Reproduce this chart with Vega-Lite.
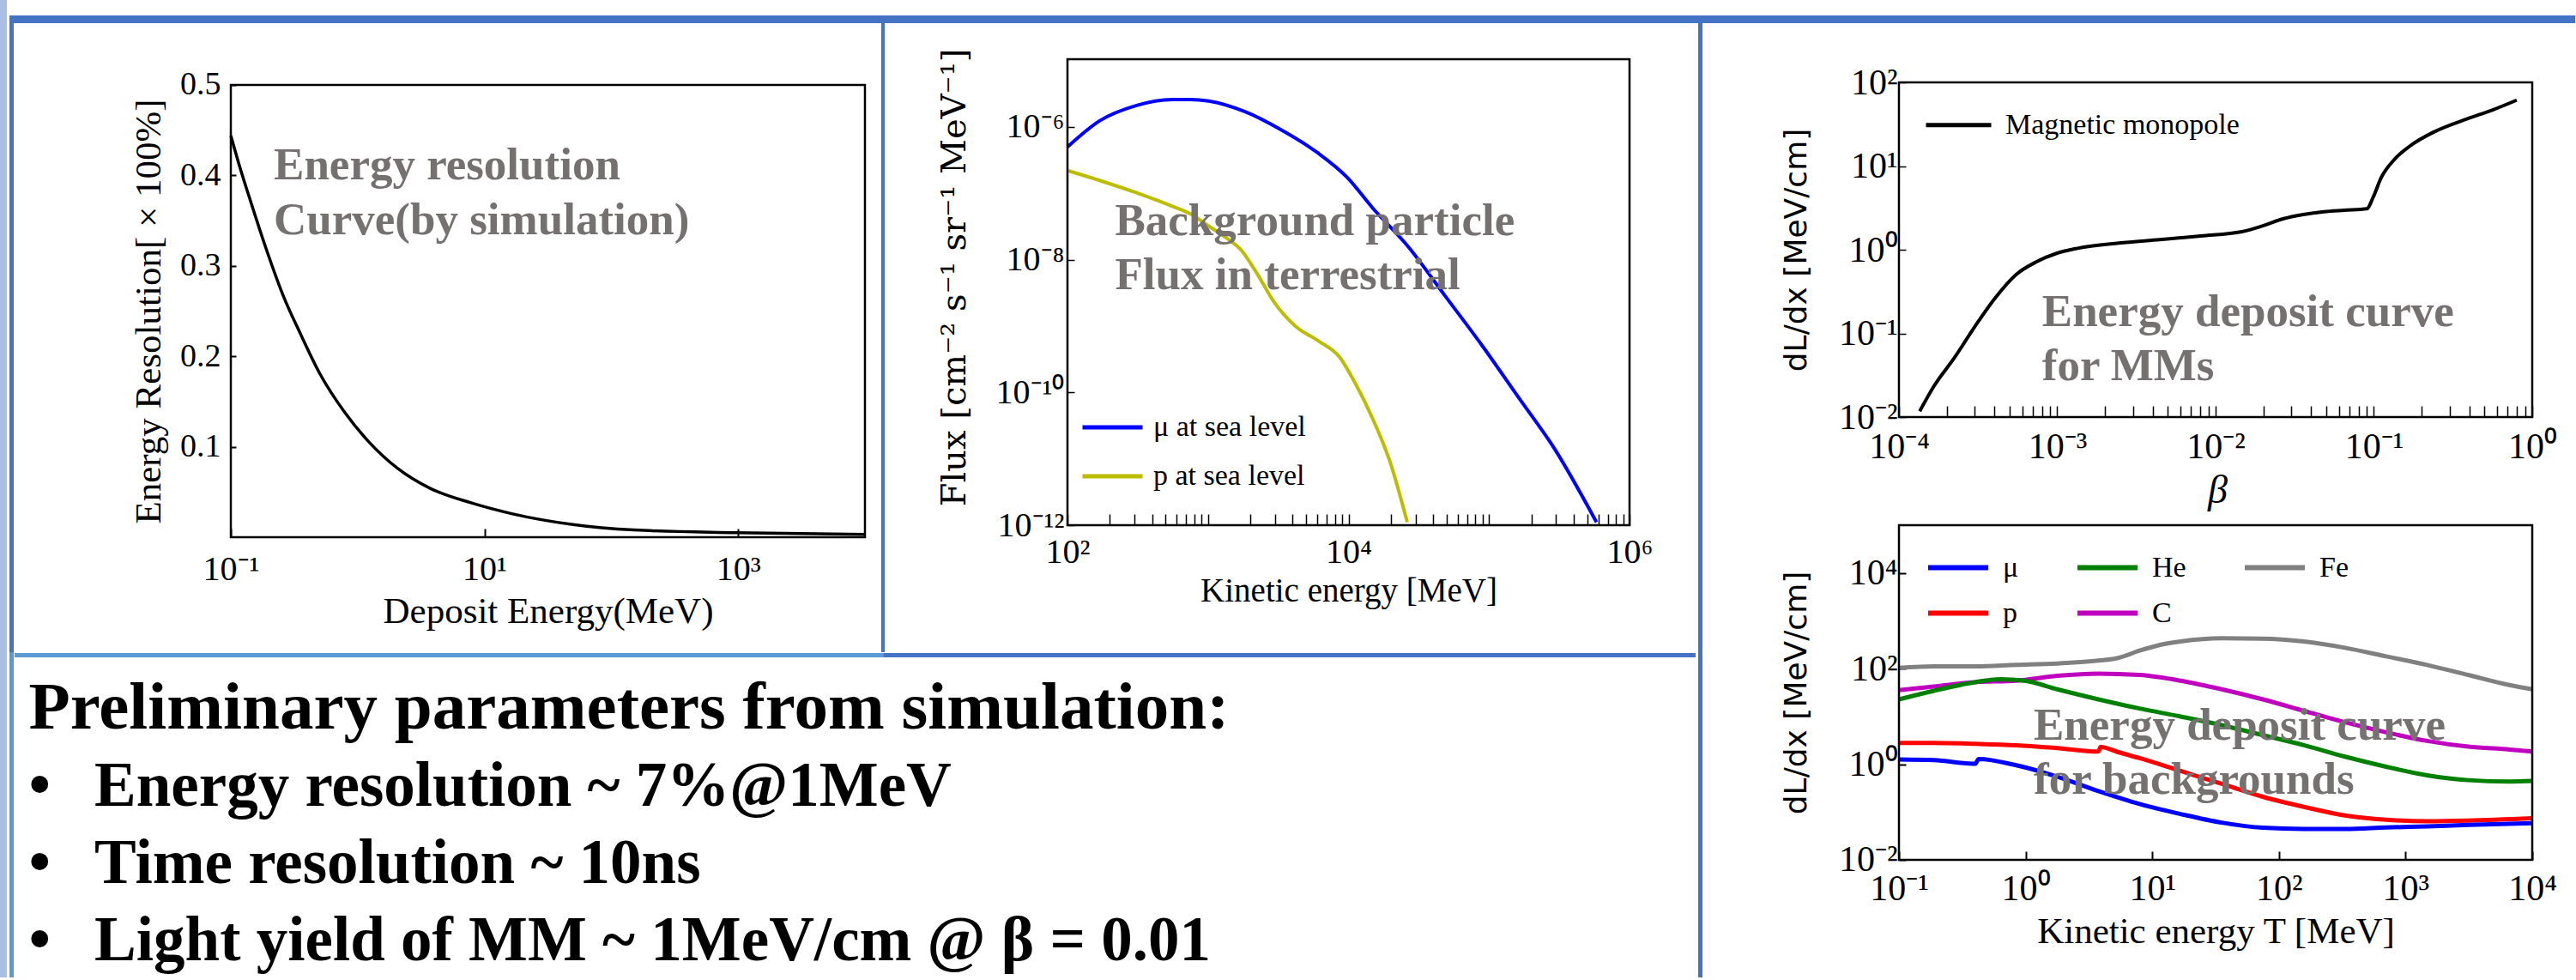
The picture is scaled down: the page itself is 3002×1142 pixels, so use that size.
{
"$schema": "https://vega.github.io/schema/vega-lite/v6.json",
"background": "white",
"padding": 0,
"spacing": 2,
"resolve": {"scale": {"color": "independent"}, "legend": {"color": "independent"}},
"config": {
  "view": {"stroke": null},
  "concat": {"spacing": 0},
  "font": "Liberation Serif",
  "axis": {"labelFont": "Liberation Serif", "titleFont": "Liberation Serif", "labelColor": "#000", "titleColor": "#000", "titleFontWeight": "normal", "tickColor": "#000", "grid": false, "domain": false, "labelFlush": false, "labelOverlap": false},
  "legend": {"labelFont": "Liberation Serif", "labelColor": "#000", "padding": 0, "labelLimit": 0}
},
"hconcat": [
  {"width": 8, "height": 1139, "view": {"fill": "#A9BFE6", "stroke": null}, "data": {"values": [{}]}, "mark": {"type": "point", "opacity": 0}, "encoding": {}},
  {"spacing": 0, "resolve": {"scale": {"color": "independent"}, "legend": {"color": "independent"}}, "vconcat": [
    {"width": 2990, "height": 18, "data": {"values": [{}]}, "mark": {"type": "point", "opacity": 0}, "encoding": {}},
    {"width": 2990, "height": 9, "view": {"fill": "#4472C4", "stroke": null}, "data": {"values": [{}]}, "mark": {"type": "point", "opacity": 0}, "encoding": {}},
    {"spacing": 0, "resolve": {"scale": {"color": "independent"}, "legend": {"color": "independent"}}, "hconcat": [
      {"spacing": 0, "vconcat": [
        {"width": 5, "height": 733, "view": {"fill": "#4472C4", "stroke": null}, "data": {"values": [{}]}, "mark": {"type": "point", "opacity": 0}, "encoding": {}},
        {"width": 5, "height": 379, "view": {"fill": "#5B9BD5", "stroke": null}, "data": {"values": [{}]}, "mark": {"type": "point", "opacity": 0}, "encoding": {}}
      ]},
      {"spacing": 0, "resolve": {"scale": {"color": "independent"}, "legend": {"color": "independent"}}, "vconcat": [
        {"spacing": 0, "resolve": {"scale": {"color": "independent"}, "legend": {"color": "independent"}}, "hconcat": [
          {"width": 1009, "height": 733, "layer": [
            {"data": {"values": [
              {"x": 0.1, "y": 0.444}, {"x": 0.1156, "y": 0.413}, {"x": 0.1442, "y": 0.370}, {"x": 0.1941, "y": 0.315},
              {"x": 0.2606, "y": 0.266}, {"x": 0.3508, "y": 0.226}, {"x": 0.507, "y": 0.180}, {"x": 0.7907, "y": 0.138},
              {"x": 1.233, "y": 0.105}, {"x": 2.07, "y": 0.076}, {"x": 3.733, "y": 0.054}, {"x": 7.834, "y": 0.038},
              {"x": 16.41, "y": 0.026}, {"x": 49.77, "y": 0.014}, {"x": 150.7, "y": 0.008}, {"x": 955, "y": 0.005}, {"x": 10000, "y": 0.003}
            ]},
             "mark": {"type": "line", "color": "#000", "strokeWidth": 3.5, "interpolate": "monotone"},
             "encoding": {
               "x": {"field": "x", "type": "quantitative", "scale": {"type": "log", "domain": [0.001972, 13240], "nice": false},
                     "axis": {"orient": "bottom", "offset": -134, "values": [0.1, 10, 1000], "labelExpr": "abs(log(datum.value)/LN10 - round(log(datum.value)/LN10)) > 0.01 ? '' : '10' + replace(replace(replace(replace(replace(replace(replace(replace('' + round(log(datum.value)/LN10), '-', '⁻'), '0', '⁰'), '1', '¹'), '2', '²'), '3', '³'), '4', '⁴'), '6', '⁶'), '8', '⁸')", "tickSize": -10, "tickWidth": 2, "labelPadding": 27, "labelFontSize": 40, "title": "Deposit Energy(MeV)", "titleFontSize": 43, "titlePadding": 8, "titleX": 621.5}},
               "y": {"field": "y", "type": "quantitative", "scale": {"type": "linear", "domain": [-0.12713, 0.56831], "nice": false, "zero": false},
                     "axis": {"orient": "left", "offset": -252, "values": [0.1, 0.2, 0.3, 0.4, 0.5], "format": ".1f", "tickSize": -6, "tickWidth": 2, "labelPadding": 18, "labelFontSize": 38, "title": "Energy Resolution[ × 100%]", "titleFontSize": 43, "titlePadding": 14, "titleY": 335.5}}
             }},
            {"data": {"values": [{}]},
             "mark": {"type": "rect", "fillOpacity": 0, "stroke": "#000", "strokeWidth": 2.5},
             "encoding": {
               "x": {"datum": 0.1, "type": "quantitative", "scale": {"type": "log", "domain": [0.001972, 13240], "nice": false}},
               "x2": {"datum": 10000},
               "y": {"datum": 0, "type": "quantitative", "scale": {"type": "linear", "domain": [-0.12713, 0.56831], "nice": false, "zero": false}},
               "y2": {"datum": 0.5}
             }},
            {"data": {"values": [{}]},
             "mark": {"type": "text", "align": "left", "baseline": "alphabetic", "font": "Liberation Serif", "fontWeight": "bold", "fontSize": 53, "lineHeight": 64, "color": "#767171"},
             "encoding": {
               "x": {"datum": 0.218, "type": "quantitative", "scale": {"type": "log", "domain": [0.001972, 13240], "nice": false}},
               "y": {"datum": 0.396, "type": "quantitative", "scale": {"type": "linear", "domain": [-0.12713, 0.56831], "nice": false, "zero": false}},
               "text": {"value": ["Energy resolution", "Curve(by simulation)"]}
             }}
          ]},
          {"width": 4, "height": 733, "view": {"fill": "#4472C4", "stroke": null}, "data": {"values": [{}]}, "mark": {"type": "point", "opacity": 0}, "encoding": {}},
          {"width": 946, "height": 733, "layer": [
            {"data": {"values": [
              {"s": "μ at sea level", "x": 100, "y": 5.01e-7}, {"s": "μ at sea level", "x": 169, "y": 1.236e-6}, {"s": "μ at sea level", "x": 306.9, "y": 2.099e-6},
              {"s": "μ at sea level", "x": 557.2, "y": 2.594e-6}, {"s": "μ at sea level", "x": 751.6, "y": 2.594e-6}, {"s": "μ at sea level", "x": 1012, "y": 2.46e-6},
              {"s": "μ at sea level", "x": 1837, "y": 1.698e-6}, {"s": "μ at sea level", "x": 3334, "y": 8.995e-7}, {"s": "μ at sea level", "x": 6053, "y": 4.064e-7},
              {"s": "μ at sea level", "x": 9772, "y": 1.742e-7}, {"s": "μ at sea level", "x": 14825, "y": 6.05e-8}, {"s": "μ at sea level", "x": 26915, "y": 1.528e-8},
              {"s": "μ at sea level", "x": 48978, "y": 2.805e-9}, {"s": "μ at sea level", "x": 88920, "y": 5.16e-10}, {"s": "μ at sea level", "x": 161440, "y": 8.53e-11},
              {"s": "μ at sea level", "x": 293090, "y": 1.41e-11}, {"s": "μ at sea level", "x": 582100, "y": 1.11e-12},
              {"s": "p at sea level", "x": 100, "y": 2.203e-7}, {"s": "p at sea level", "x": 169, "y": 1.567e-7}, {"s": "p at sea level", "x": 306.9, "y": 1.026e-7},
              {"s": "p at sea level", "x": 557.2, "y": 6.38e-8}, {"s": "p at sea level", "x": 751.6, "y": 4.9e-8}, {"s": "p at sea level", "x": 1012, "y": 3.206e-8},
              {"s": "p at sea level", "x": 1365, "y": 2.099e-8}, {"s": "p at sea level", "x": 1734, "y": 1.374e-8}, {"s": "p at sea level", "x": 2198, "y": 6.55e-9},
              {"s": "p at sea level", "x": 2965, "y": 2.27e-9}, {"s": "p at sea level", "x": 4236, "y": 9.75e-10}, {"s": "p at sea level", "x": 6053, "y": 6.05e-10},
              {"s": "p at sea level", "x": 8670, "y": 3.38e-10}, {"s": "p at sea level", "x": 11015, "y": 1.452e-10}, {"s": "p at sea level", "x": 14825, "y": 4.07e-11},
              {"s": "p at sea level", "x": 19999, "y": 8.32e-12}, {"s": "p at sea level", "x": 26182, "y": 1.11e-12}
            ]},
             "mark": {"type": "line", "strokeWidth": 4, "interpolate": "monotone"},
             "encoding": {
               "x": {"field": "x", "type": "quantitative", "scale": {"type": "log", "domain": [5.074, 3036700], "nice": false},
                     "axis": {"orient": "bottom", "offset": -148, "values": [100,200,300,400,500,600,700,800,900,1000,2000,3000,4000,5000,6000,7000,8000,9000,10000,20000,30000,40000,50000,60000,70000,80000,90000,100000,200000,300000,400000,500000,600000,700000,800000,900000,1000000], "labelExpr": "(abs(log(datum.value)/LN10 - round(log(datum.value)/LN10)) > 0.01 || round(log(datum.value)/LN10) % 2 != 0) ? '' : '10' + replace(replace(replace(replace(replace(replace(replace(replace('' + round(log(datum.value)/LN10), '-', '⁻'), '0', '⁰'), '1', '¹'), '2', '²'), '3', '³'), '4', '⁴'), '6', '⁶'), '8', '⁸')", "tickSize": -13, "tickWidth": 1.5, "labelPadding": 24, "labelFontSize": 40, "title": "Kinetic energy [MeV]", "titleFontSize": 39, "titlePadding": 6, "titleX": 539.5}},
               "y": {"field": "y", "type": "quantitative", "scale": {"type": "log", "domain": [1.2199e-14, 3.6666e-5], "nice": false},
                     "axis": {"orient": "left", "offset": -212, "values": [1e-12, 1e-10, 1e-8, 1e-6], "labelExpr": "abs(log(datum.value)/LN10 - round(log(datum.value)/LN10)) > 0.01 ? '' : '10' + replace(replace(replace(replace(replace(replace(replace(replace('' + round(log(datum.value)/LN10), '-', '⁻'), '0', '⁰'), '1', '¹'), '2', '²'), '3', '³'), '4', '⁴'), '6', '⁶'), '8', '⁸')", "tickSize": -8, "tickWidth": 1.5, "labelPadding": 12, "labelFontSize": 40, "title": "Flux [cm⁻² s⁻¹ sr⁻¹ MeV⁻¹]", "titleFont": "DejaVu Serif", "titleFontSize": 40, "titlePadding": 28, "titleY": 296}},
               "color": {"field": "s", "type": "nominal", "scale": {"domain": ["μ at sea level", "p at sea level"], "range": ["#0000FF", "#BDBD00"]},
                         "legend": {"orient": "none", "legendX": 227, "legendY": 442.5, "title": null, "symbolType": "stroke", "symbolSize": 4900, "symbolStrokeWidth": 5, "labelFontSize": 34, "labelOffset": 10, "rowPadding": 0, "clipHeight": 57, "padding": 0}}
             }},
            {"data": {"values": [{}]},
             "mark": {"type": "rect", "fillOpacity": 0, "stroke": "#000", "strokeWidth": 2.5},
             "encoding": {
               "x": {"datum": 100, "type": "quantitative", "scale": {"type": "log", "domain": [5.074, 3036700], "nice": false}},
               "x2": {"datum": 1000000},
               "y": {"datum": 1e-12, "type": "quantitative", "scale": {"type": "log", "domain": [1.2199e-14, 3.6666e-5], "nice": false}},
               "y2": {"datum": 1.05e-5}
             }},
            {"data": {"values": [{}]},
             "mark": {"type": "text", "align": "left", "baseline": "alphabetic", "font": "Liberation Serif", "fontWeight": "bold", "fontSize": 53, "lineHeight": 63, "color": "#767171"},
             "encoding": {
               "x": {"datum": 218.2, "type": "quantitative", "scale": {"type": "log", "domain": [5.074, 3036700], "nice": false}},
               "y": {"datum": 2.346e-8, "type": "quantitative", "scale": {"type": "log", "domain": [1.2199e-14, 3.6666e-5], "nice": false}},
               "text": {"value": ["Background particle", "Flux in terrestrial"]}
             }}
          ]}
        ]},
        {"spacing": 0, "hconcat": [
          {"width": 1013, "height": 5, "view": {"fill": "#5B9BD5", "stroke": null}, "data": {"values": [{}]}, "mark": {"type": "point", "opacity": 0}, "encoding": {}},
          {"width": 946, "height": 5, "view": {"fill": "#4472C4", "stroke": null}, "data": {"values": [{}]}, "mark": {"type": "point", "opacity": 0}, "encoding": {}}
        ]},
        {"width": 1959, "height": 374,
         "data": {"values": [
           {"k": "h", "row": 0, "t": "Preliminary parameters from simulation:"},
           {"k": "b", "row": 1, "t": "•\u2002\u2009Energy resolution ~ 7%@1MeV"},
           {"k": "b", "row": 2, "t": "•\u2002\u2009Time resolution ~ 10ns"},
           {"k": "b", "row": 3, "t": "•\u2002\u2009Light yield of MM ~ 1MeV/cm @ β = 0.01"}
         ]},
         "layer": [
           {"transform": [{"filter": "datum.k === 'h'"}],
            "mark": {"type": "text", "align": "left", "baseline": "alphabetic", "font": "Liberation Serif", "fontWeight": "bold", "fontSize": 79, "color": "#000"},
            "encoding": {
              "x": {"datum": 0.00837, "type": "quantitative", "scale": {"domain": [0, 1]}, "axis": null},
              "y": {"field": "row", "type": "quantitative", "scale": {"domain": [-0.9078, 3.2478], "reverse": true, "nice": false, "zero": false}, "axis": null},
              "text": {"field": "t"}
            }},
           {"transform": [{"filter": "datum.k === 'b'"}],
            "mark": {"type": "text", "align": "left", "baseline": "alphabetic", "font": "Liberation Serif", "fontWeight": "bold", "fontSize": 73, "color": "#000"},
            "encoding": {
              "x": {"datum": 0.00837, "type": "quantitative", "scale": {"domain": [0, 1]}, "axis": null},
              "y": {"field": "row", "type": "quantitative", "scale": {"domain": [-0.9078, 3.2478], "reverse": true, "nice": false, "zero": false}, "axis": null},
              "text": {"field": "t"}
            }}
         ]}
      ]},
      {"width": 5, "height": 1112, "view": {"fill": "#4472C4", "stroke": null}, "data": {"values": [{}]}, "mark": {"type": "point", "opacity": 0}, "encoding": {}},
      {"spacing": 0, "resolve": {"scale": {"color": "independent"}, "legend": {"color": "independent"}}, "vconcat": [
        {"width": 1020, "height": 575, "layer": [
          {"data": {"values": [
            {"s": "Magnetic monopole", "x": 1.352e-4, "y": 0.01172}, {"s": "Magnetic monopole", "x": 1.663e-4, "y": 0.02339}, {"s": "Magnetic monopole", "x": 2.244e-4, "y": 0.0514},
            {"s": "Magnetic monopole", "x": 3.027e-4, "y": 0.1222}, {"s": "Magnetic monopole", "x": 4.074e-4, "y": 0.2685}, {"s": "Magnetic monopole", "x": 5.495e-4, "y": 0.5047},
            {"s": "Magnetic monopole", "x": 7.396e-4, "y": 0.7178}, {"s": "Magnetic monopole", "x": 9.977e-4, "y": 0.9099}, {"s": "Magnetic monopole", "x": 1.343e-3, "y": 1.04},
            {"s": "Magnetic monopole", "x": 2.443e-3, "y": 1.199}, {"s": "Magnetic monopole", "x": 4.436e-3, "y": 1.318}, {"s": "Magnetic monopole", "x": 8.054e-3, "y": 1.459},
            {"s": "Magnetic monopole", "x": 0.01466, "y": 1.641}, {"s": "Magnetic monopole", "x": 0.01972, "y": 1.923}, {"s": "Magnetic monopole", "x": 0.02661, "y": 2.339},
            {"s": "Magnetic monopole", "x": 0.03581, "y": 2.636}, {"s": "Magnetic monopole", "x": 0.04831, "y": 2.851}, {"s": "Magnetic monopole", "x": 0.06516, "y": 2.965},
            {"s": "Magnetic monopole", "x": 0.09036, "y": 3.083}, {"s": "Magnetic monopole", "x": 0.09886, "y": 4.227}, {"s": "Magnetic monopole", "x": 0.1114, "y": 7.328},
            {"s": "Magnetic monopole", "x": 0.1334, "y": 11.75}, {"s": "Magnetic monopole", "x": 0.1694, "y": 17.42}, {"s": "Magnetic monopole", "x": 0.2421, "y": 25.82},
            {"s": "Magnetic monopole", "x": 0.39, "y": 36.81}, {"s": "Magnetic monopole", "x": 0.5585, "y": 46.67}, {"s": "Magnetic monopole", "x": 0.798, "y": 61.38}
          ]},
           "mark": {"type": "line", "strokeWidth": 4, "interpolate": "monotone"},
           "encoding": {
             "x": {"field": "x", "type": "quantitative", "scale": {"type": "log", "domain": [5.8115e-6, 1.9623], "nice": false},
                   "axis": {"orient": "bottom", "offset": -116, "values": [0.0001,0.0002,0.0003,0.0004,0.0005,0.0006,0.0007,0.0008,0.0009,0.001,0.002,0.003,0.004,0.005,0.006,0.007,0.008,0.009,0.01,0.02,0.03,0.04,0.05,0.06,0.07,0.08,0.09,0.1,0.2,0.3,0.4,0.5,0.6,0.7,0.8,0.9,1], "labelExpr": "abs(log(datum.value)/LN10 - round(log(datum.value)/LN10)) > 0.01 ? '' : '10' + replace(replace(replace(replace(replace(replace(replace(replace('' + round(log(datum.value)/LN10), '-', '⁻'), '0', '⁰'), '1', '¹'), '2', '²'), '3', '³'), '4', '⁴'), '6', '⁶'), '8', '⁸')", "tickSize": -13, "tickWidth": 1.5, "labelPadding": 27, "labelFontSize": 42, "title": "β", "titleFontStyle": "italic", "titleFontSize": 46, "titlePadding": 8, "titleX": 599}},
             "y": {"field": "y", "type": "quantitative", "scale": {"type": "log", "domain": [6.4603e-4, 510.3], "nice": false},
                   "axis": {"orient": "left", "offset": -228, "values": [0.01, 0.1, 1, 10, 100], "labelExpr": "abs(log(datum.value)/LN10 - round(log(datum.value)/LN10)) > 0.01 ? '' : '10' + replace(replace(replace(replace(replace(replace(replace(replace('' + round(log(datum.value)/LN10), '-', '⁻'), '0', '⁰'), '1', '¹'), '2', '²'), '3', '³'), '4', '⁴'), '6', '⁶'), '8', '⁸')", "tickSize": -8, "tickWidth": 1.5, "labelPadding": 10, "labelFontSize": 42, "title": "dL/dx [MeV/cm]", "titleFont": "DejaVu Sans", "titleFontSize": 36, "titlePadding": 30, "titleY": 264}},
             "color": {"field": "s", "type": "nominal", "scale": {"domain": ["Magnetic monopole"], "range": ["#000000"]},
                       "legend": {"orient": "none", "legendX": 257, "legendY": 78.3, "title": null, "symbolType": "stroke", "symbolSize": 5776, "symbolStrokeWidth": 5, "labelFontSize": 34, "labelOffset": 14, "padding": 0}}
           }},
          {"data": {"values": [{}]},
           "mark": {"type": "rect", "fillOpacity": 0, "stroke": "#000", "strokeWidth": 2.5},
           "encoding": {
             "x": {"datum": 0.0001, "type": "quantitative", "scale": {"type": "log", "domain": [5.8115e-6, 1.9623], "nice": false}},
             "x2": {"datum": 1},
             "y": {"datum": 0.01, "type": "quantitative", "scale": {"type": "log", "domain": [6.4603e-4, 510.3], "nice": false}},
             "y2": {"datum": 100}
           }},
          {"data": {"values": [{}]},
           "mark": {"type": "text", "align": "left", "baseline": "alphabetic", "font": "Liberation Serif", "fontWeight": "bold", "fontSize": 53, "lineHeight": 63, "color": "#767171"},
           "encoding": {
             "x": {"datum": 8.017e-4, "type": "quantitative", "scale": {"type": "log", "domain": [5.8115e-6, 1.9623], "nice": false}},
             "y": {"datum": 0.1223, "type": "quantitative", "scale": {"type": "log", "domain": [6.4603e-4, 510.3], "nice": false}},
             "text": {"value": ["Energy deposit curve", "for MMs"]}
           }}
        ]},
        {"width": 1020, "height": 537, "layer": [
          {"data": {"values": [
            {"s": "Fe", "x": 0.1, "y": 104}, {"s": "Fe", "x": 0.1892, "y": 111.4}, {"s": "Fe", "x": 0.399, "y": 111.4}, {"s": "Fe", "x": 0.8433, "y": 119.4},
            {"s": "Fe", "x": 1.778, "y": 127.9}, {"s": "Fe", "x": 3.758, "y": 146.9}, {"s": "Fe", "x": 5.458, "y": 168.7}, {"s": "Fe", "x": 7.943, "y": 237.7},
            {"s": "Fe", "x": 11.53, "y": 313.3}, {"s": "Fe", "x": 16.75, "y": 369.8}, {"s": "Fe", "x": 35.4, "y": 430.5}, {"s": "Fe", "x": 74.64, "y": 424.6},
            {"s": "Fe", "x": 157.4, "y": 369.8}, {"s": "Fe", "x": 332.7, "y": 272.9}, {"s": "Fe", "x": 701.5, "y": 180.7}, {"s": "Fe", "x": 1479, "y": 119.4},
            {"s": "Fe", "x": 3126, "y": 73.62}, {"s": "Fe", "x": 6607, "y": 45.39}, {"s": "Fe", "x": 10000, "y": 36.9},
            {"s": "C", "x": 0.1, "y": 35.4}, {"s": "C", "x": 0.1892, "y": 42.36}, {"s": "C", "x": 0.399, "y": 52.12}, {"s": "C", "x": 0.8433, "y": 55.85},
            {"s": "C", "x": 1.778, "y": 70.63}, {"s": "C", "x": 3.758, "y": 78.89}, {"s": "C", "x": 7.943, "y": 73.62}, {"s": "C", "x": 16.75, "y": 55.85},
            {"s": "C", "x": 35.4, "y": 36.9}, {"s": "C", "x": 74.64, "y": 22.75}, {"s": "C", "x": 157.4, "y": 13.12}, {"s": "C", "x": 332.7, "y": 7.551},
            {"s": "C", "x": 701.5, "y": 4.656}, {"s": "C", "x": 1479, "y": 3.076}, {"s": "C", "x": 3126, "y": 2.333}, {"s": "C", "x": 6607, "y": 2.032}, {"s": "C", "x": 10000, "y": 1.845},
            {"s": "He", "x": 0.1, "y": 22.75}, {"s": "He", "x": 0.1892, "y": 34.43}, {"s": "He", "x": 0.399, "y": 52.12}, {"s": "He", "x": 0.6266, "y": 59.84},
            {"s": "He", "x": 0.9795, "y": 55.85}, {"s": "He", "x": 1.778, "y": 36.9}, {"s": "He", "x": 3.758, "y": 22.75}, {"s": "He", "x": 7.943, "y": 14.62},
            {"s": "He", "x": 16.75, "y": 9.954}, {"s": "He", "x": 35.4, "y": 6.577}, {"s": "He", "x": 74.64, "y": 4.055}, {"s": "He", "x": 157.4, "y": 2.5},
            {"s": "He", "x": 332.7, "y": 1.439}, {"s": "He", "x": 701.5, "y": 0.887}, {"s": "He", "x": 1479, "y": 0.5875}, {"s": "He", "x": 3126, "y": 0.4645},
            {"s": "He", "x": 6607, "y": 0.4365}, {"s": "He", "x": 10000, "y": 0.4457},
            {"s": "p", "x": 0.1, "y": 2.793}, {"s": "p", "x": 0.1892, "y": 2.793}, {"s": "p", "x": 0.399, "y": 2.679}, {"s": "p", "x": 0.8433, "y": 2.5},
            {"s": "p", "x": 1.778, "y": 2.178}, {"s": "p", "x": 3.758, "y": 1.845}, {"s": "p", "x": 3.899, "y": 2.291}, {"s": "p", "x": 5.458, "y": 1.77},
            {"s": "p", "x": 7.943, "y": 1.343}, {"s": "p", "x": 16.75, "y": 0.7228}, {"s": "p", "x": 35.4, "y": 0.3882}, {"s": "p", "x": 74.64, "y": 0.2084},
            {"s": "p", "x": 157.4, "y": 0.1285}, {"s": "p", "x": 332.7, "y": 0.08492}, {"s": "p", "x": 701.5, "y": 0.06902}, {"s": "p", "x": 1479, "y": 0.06442},
            {"s": "p", "x": 3126, "y": 0.06622}, {"s": "p", "x": 10000, "y": 0.07396},
            {"s": "μ", "x": 0.1, "y": 1.253}, {"s": "μ", "x": 0.1892, "y": 1.219}, {"s": "μ", "x": 0.399, "y": 1.019}, {"s": "μ", "x": 0.4266, "y": 1.288},
            {"s": "μ", "x": 0.8433, "y": 0.9506}, {"s": "μ", "x": 1.778, "y": 0.5483}, {"s": "μ", "x": 3.758, "y": 0.2748}, {"s": "μ", "x": 7.943, "y": 0.1476},
            {"s": "μ", "x": 16.75, "y": 0.09099}, {"s": "μ", "x": 35.4, "y": 0.06012}, {"s": "μ", "x": 74.64, "y": 0.04688}, {"s": "μ", "x": 157.4, "y": 0.04436},
            {"s": "μ", "x": 332.7, "y": 0.04436}, {"s": "μ", "x": 701.5, "y": 0.04753}, {"s": "μ", "x": 1479, "y": 0.05023}, {"s": "μ", "x": 3126, "y": 0.05383},
            {"s": "μ", "x": 10000, "y": 0.05848}
          ]},
           "mark": {"type": "line", "strokeWidth": 5, "interpolate": "monotone"},
           "encoding": {
             "x": {"field": "x", "type": "quantitative", "scale": {"type": "log", "domain": [0.0028529, 23219], "nice": false},
                   "axis": {"orient": "bottom", "offset": -137, "values": [0.1, 1, 10, 100, 1000, 10000], "labelExpr": "abs(log(datum.value)/LN10 - round(log(datum.value)/LN10)) > 0.01 ? '' : '10' + replace(replace(replace(replace(replace(replace(replace(replace('' + round(log(datum.value)/LN10), '-', '⁻'), '0', '⁰'), '1', '¹'), '2', '²'), '3', '³'), '4', '⁴'), '6', '⁶'), '8', '⁸')", "tickSize": -10, "tickWidth": 2, "labelPadding": 23, "labelFontSize": 42, "title": "Kinetic energy T [MeV]", "titleFontSize": 43, "titlePadding": 8, "titleX": 597}},
             "y": {"field": "y", "type": "quantitative", "scale": {"type": "log", "domain": [3.4754e-5, 151150], "nice": false},
                   "axis": {"orient": "left", "offset": -228, "values": [0.01, 1, 100, 10000], "labelExpr": "abs(log(datum.value)/LN10 - round(log(datum.value)/LN10)) > 0.01 ? '' : '10' + replace(replace(replace(replace(replace(replace(replace(replace('' + round(log(datum.value)/LN10), '-', '⁻'), '0', '⁰'), '1', '¹'), '2', '²'), '3', '³'), '4', '⁴'), '6', '⁶'), '8', '⁸')", "tickSize": -8, "tickWidth": 2, "labelPadding": 10, "labelFontSize": 42, "title": "dL/dx [MeV/cm]", "titleFont": "DejaVu Sans", "titleFontSize": 36, "titlePadding": 30, "titleY": 205}},
             "color": {"field": "s", "type": "nominal", "scale": {"domain": ["μ", "p", "He", "C", "Fe"], "range": ["#0000FF", "#FF0000", "#008000", "#BF00BF", "#808080"]},
                       "legend": {"orient": "none", "legendX": 259, "legendY": 33, "title": null, "columns": 3, "columnPadding": 65, "rowPadding": 0, "clipHeight": 53, "symbolType": "stroke", "symbolSize": 4900, "symbolStrokeWidth": 6, "labelFontSize": 34, "labelOffset": 14, "padding": 0}}
           }},
          {"data": {"values": [{}]},
           "mark": {"type": "rect", "fillOpacity": 0, "stroke": "#000", "strokeWidth": 2.5},
           "encoding": {
             "x": {"datum": 0.1, "type": "quantitative", "scale": {"type": "log", "domain": [0.0028529, 23219], "nice": false}},
             "x2": {"datum": 10000},
             "y": {"datum": 0.01, "type": "quantitative", "scale": {"type": "log", "domain": [3.4754e-5, 151150], "nice": false}},
             "y2": {"datum": 100000}
           }},
          {"data": {"values": [{}]},
           "mark": {"type": "text", "align": "left", "baseline": "alphabetic", "font": "Liberation Serif", "fontWeight": "bold", "fontSize": 53, "lineHeight": 63, "color": "#767171"},
           "encoding": {
             "x": {"datum": 1.158, "type": "quantitative", "scale": {"type": "log", "domain": [0.0028529, 23219], "nice": false}},
             "y": {"datum": 3.298, "type": "quantitative", "scale": {"type": "log", "domain": [3.4754e-5, 151150], "nice": false}},
             "text": {"value": ["Energy deposit curve", "for backgrounds"]}
           }}
        ]}
      ]}
    ]}
  ]}
]
}
